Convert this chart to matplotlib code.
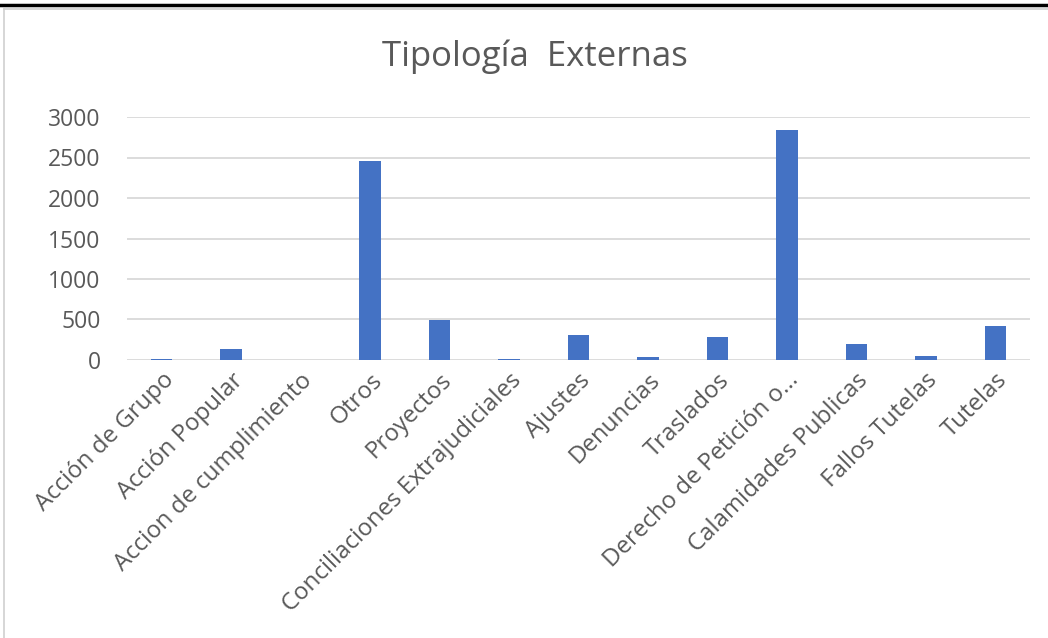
import matplotlib
matplotlib.use("Agg")
import matplotlib.pyplot as plt
from matplotlib.lines import Line2D

categorias = ["Acción de Grupo", "Acción Popular", "Accion de cumplimiento", "Otros",
              "Proyectos", "Conciliaciones Extrajudiciales", "Ajustes", "Denuncias",
              "Traslados", "Derecho de Petición o...", "Calamidades Publicas",
              "Fallos Tutelas", "Tutelas"]
valores = [12, 135, 0, 2460, 495, 12, 305, 35, 285, 2840, 198, 50, 420]
yticks = [0, 500, 1000, 1500, 2000, 2500, 3000]

plt.rcParams['font.family'] = ['Open Sans', 'DejaVu Sans']

W, H = 1048, 638
fig = plt.figure(figsize=(W / 100, H / 100), dpi=100)
ax = fig.add_axes([127 / W, 1 - 360 / H, (1030 - 127) / W, (360 - 117) / H])

x = range(len(categorias))
ax.bar(x, valores, width=0.31, color="#4472c4", zorder=3)

ax.set_xlim(-0.5, len(categorias) - 0.5)
ax.set_ylim(0, 3000)
ax.set_yticks(yticks)
ax.set_yticklabels([str(v) for v in yticks], fontsize=16.5, color="#595959")
ax.set_xticks(list(x))
ax.set_xticklabels(categorias, rotation=45, ha="right", rotation_mode="anchor",
                   fontsize=17.3, color="#595959")
ax.tick_params(axis="y", length=0, pad=19)
ax.tick_params(axis="x", length=0, pad=6)
ax.grid(axis="y", color="#d9d9d9", linewidth=1.3, zorder=0)
for s in ax.spines.values():
    s.set_visible(False)

fig.text(535 / W, 1 - 57 / H, "Tipología  Externas", ha="center", va="center",
         fontsize=25, color="#595959")

# marco
fig.add_artist(Line2D([0, 1], [1 - 5 / H, 1 - 5 / H], color="black", linewidth=2.5))
fig.add_artist(Line2D([4 / W, 4 / W], [0, 1 - 9 / H], color="#d0d0d0", linewidth=1.2))
fig.add_artist(Line2D([4 / W, 1], [1 - 9 / H, 1 - 9 / H], color="#d0d0d0", linewidth=1.2))

fig.savefig("out.png", dpi=100)
